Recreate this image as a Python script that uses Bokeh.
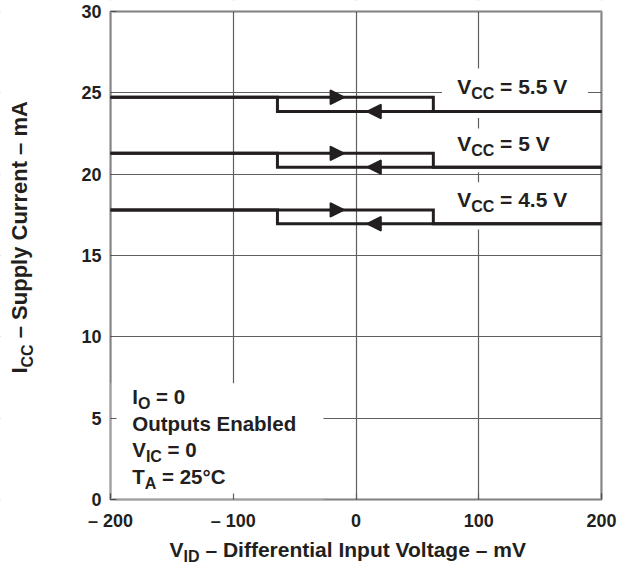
from bokeh.plotting import figure
from bokeh.models import (Label, BoxAnnotation, Arrow, NormalHead, FixedTicker, Range1d,
                          LinearAxis, Grid)
from bokeh.embed import file_html
from bokeh.resources import INLINE

# ---- data ----
vcc_names = ["5.5 V", "5 V", "4.5 V"]
icc_high = [24.73, 21.28, 17.80]      # mA, state reached while V_ID rises from -200 mV
icc_low = [23.85, 20.43, 16.95]       # mA, state reached while V_ID falls from +200 mV
vid_rise_trip = 63.0                  # mV, switching point when V_ID increases
vid_fall_trip = -64.0                 # mV, switching point when V_ID decreases
vid_span = [-200.0, 200.0]
icc_span = [0.0, 30.0]
arrow_rise_tip = -9.5                 # mV
arrow_fall_tip = 9.0                  # mV
x_ticks = [-200, -100, 0, 100, 200]
x_tick_labels = ["– 200", "– 100", "0", "100", "200"]
y_ticks = [0, 5, 10, 15, 20, 25, 30]

# ---- style / layout ----
FONT = "Liberation Sans"
INK = "#231f20"
GRID = "#5f5f5f"
W, H = 623, 569
FRAME_L, FRAME_R, FRAME_T, FRAME_B = 110, 601, 11, 499   # pixel box of the chart area
BASELINE_FIX = 0.4   # em; lifts Label text so its glyph baseline sits on the anchor

ADV = {' ': 278, '=': 584, '.': 278, 'V': 667, 'C': 722, 'I': 278, 'D': 722,
       'O': 778, 'A': 722, 'T': 611, '–': 556, '°': 400}
for d in "0123456789":
    ADV[d] = 556


def text_width(s, size):
    return sum(ADV.get(ch, 556) for ch in s) / 1000.0 * size


# the canvas-wide frame lets every text sit inside it; the chart box is drawn on top
sx = (FRAME_R - FRAME_L) / (vid_span[1] - vid_span[0])
sy = (FRAME_B - FRAME_T) / (icc_span[1] - icc_span[0])
x_range = Range1d(vid_span[0] - FRAME_L / sx, vid_span[1] + (W - FRAME_R) / sx)
y_range = Range1d(icc_span[0] - (H - FRAME_B) / sy, icc_span[1] + FRAME_T / sy)

p = figure(width=W, height=H, output_backend="svg", toolbar_location=None,
           x_range=x_range, y_range=y_range, x_axis_location=None, y_axis_location=None,
           min_border=0)
p.background_fill_color = "white"
p.border_fill_color = "white"
p.outline_line_color = None
for g in list(p.select(type=Grid)):
    p.center.remove(g)

# grid
p.add_layout(Grid(dimension=0, ticker=FixedTicker(ticks=x_ticks), grid_line_color=GRID,
                  grid_line_width=1.2))
p.add_layout(Grid(dimension=1, ticker=FixedTicker(ticks=y_ticks), grid_line_color=GRID,
                  grid_line_width=1.2))


# white masks: outside the chart box, and behind the annotation texts
def mask(**kw):
    p.add_layout(BoxAnnotation(fill_color="white", fill_alpha=1, line_color=None,
                               level="underlay", **kw))


mask(right=vid_span[0])
mask(left=vid_span[1])
mask(bottom=icc_span[1])
mask(top=icc_span[0])
mask_boxes = [(70, 189, 23.45, 26.5), (70, 189, 20.12, 22.8), (70, 189, 16.6, 19.5),
              (-200, -26.5, 0, 7.15)]
for l, r, b, t in mask_boxes:
    mask(left=l, right=r, bottom=b, top=t)

# axes pinned to the chart box edges
xaxis = LinearAxis(fixed_location=icc_span[0], bounds=tuple(vid_span),
                   ticker=FixedTicker(ticks=x_ticks))
yaxis = LinearAxis(fixed_location=vid_span[0], bounds=tuple(icc_span),
                   ticker=FixedTicker(ticks=y_ticks))
xaxis.major_label_overrides = {t: lab for t, lab in zip(x_ticks, x_tick_labels)}
xaxis.major_label_standoff = 11
yaxis.major_label_standoff = 9
for ax in (xaxis, yaxis):
    ax.axis_line_color = None
    ax.major_tick_in = 6
    ax.major_tick_out = 0
    ax.major_tick_line_color = GRID
    ax.major_tick_line_width = 1.2
    ax.minor_tick_line_color = None
    ax.major_label_text_font = FONT
    ax.major_label_text_font_style = "bold"
    ax.major_label_text_font_size = "18px"
    ax.major_label_text_color = INK
p.add_layout(xaxis, "below")
p.add_layout(yaxis, "left")

# hysteresis loops
xs, ys = [], []
for hi, lo in zip(icc_high, icc_low):
    xs.append([vid_span[0], vid_rise_trip, vid_rise_trip, vid_span[1]])
    ys.append([hi, hi, lo, lo])
    xs.append([vid_span[1], vid_fall_trip, vid_fall_trip, vid_span[0]])
    ys.append([lo, lo, hi, hi])
p.multi_line(xs, ys, line_color=INK, line_width=3, line_join="miter")

for hi, lo in zip(icc_high, icc_low):
    p.add_layout(Arrow(x_start=arrow_rise_tip - 5, y_start=hi, x_end=arrow_rise_tip, y_end=hi,
                       line_alpha=0,
                       end=NormalHead(size=14, fill_color=INK, line_color=INK, line_width=1.5)))
    p.add_layout(Arrow(x_start=arrow_fall_tip + 5, y_start=lo, x_end=arrow_fall_tip, y_end=lo,
                       line_alpha=0,
                       end=NormalHead(size=14, fill_color=INK, line_color=INK, line_width=1.5)))

# chart box border
p.add_layout(BoxAnnotation(left=vid_span[0], right=vid_span[1], bottom=icc_span[0],
                           top=icc_span[1], fill_alpha=0, line_color=INK, line_width=3,
                           level="annotation"))


def rich_label(x, y, runs, angle=0.0):
    adv = 0.0
    for txt, size, shift in runs:
        lead = len(txt) - len(txt.lstrip(" "))
        adv += text_width(" " * lead, size)
        body = txt.strip(" ")
        down = shift - BASELINE_FIX * size
        if angle == 0.0:
            xo, yo = adv, -down
        else:
            xo, yo = down, adv
        p.add_layout(Label(x=x, y=y, x_offset=xo, y_offset=yo, text=body, angle=angle,
                           text_font=FONT, text_font_size=f"{size}px", text_font_style="bold",
                           text_color=INK, text_baseline="alphabetic", text_align="left"))
        adv += text_width(body, size)


# V_CC labels
label_base = [24.85, 21.38, 17.93]
for name, yb in zip(vcc_names, label_base):
    rich_label(82.4, yb, [("V", 21, 0), ("CC", 16, 5), (" = " + name, 21, 0)])

# condition block
rich_label(-182.3, 5.82, [("I", 20.5, 0), ("O", 16, 5), (" = 0", 20.5, 0)])
rich_label(-182.3, 4.18, [("Outputs Enabled", 20.5, 0)])
rich_label(-182.3, 2.54, [("V", 20.5, 0), ("IC", 16, 5), (" = 0", 20.5, 0)])
rich_label(-182.3, 0.90, [("T", 20.5, 0), ("A", 16, 5), (" = 25°C", 20.5, 0)])

# axis titles
rich_label(-151.9, -3.62, [("V", 21, 0), ("ID", 16, 4.5), (" – Differential Input Voltage – mV", 21, 0)])
rich_label(-266.6, 7.74, [("I", 22, 0), ("CC", 16, 5), (" – Supply Current – mA", 22, 0)],
           angle=1.5707963267948966)

open("out.html", "w").write(file_html(p, INLINE))
